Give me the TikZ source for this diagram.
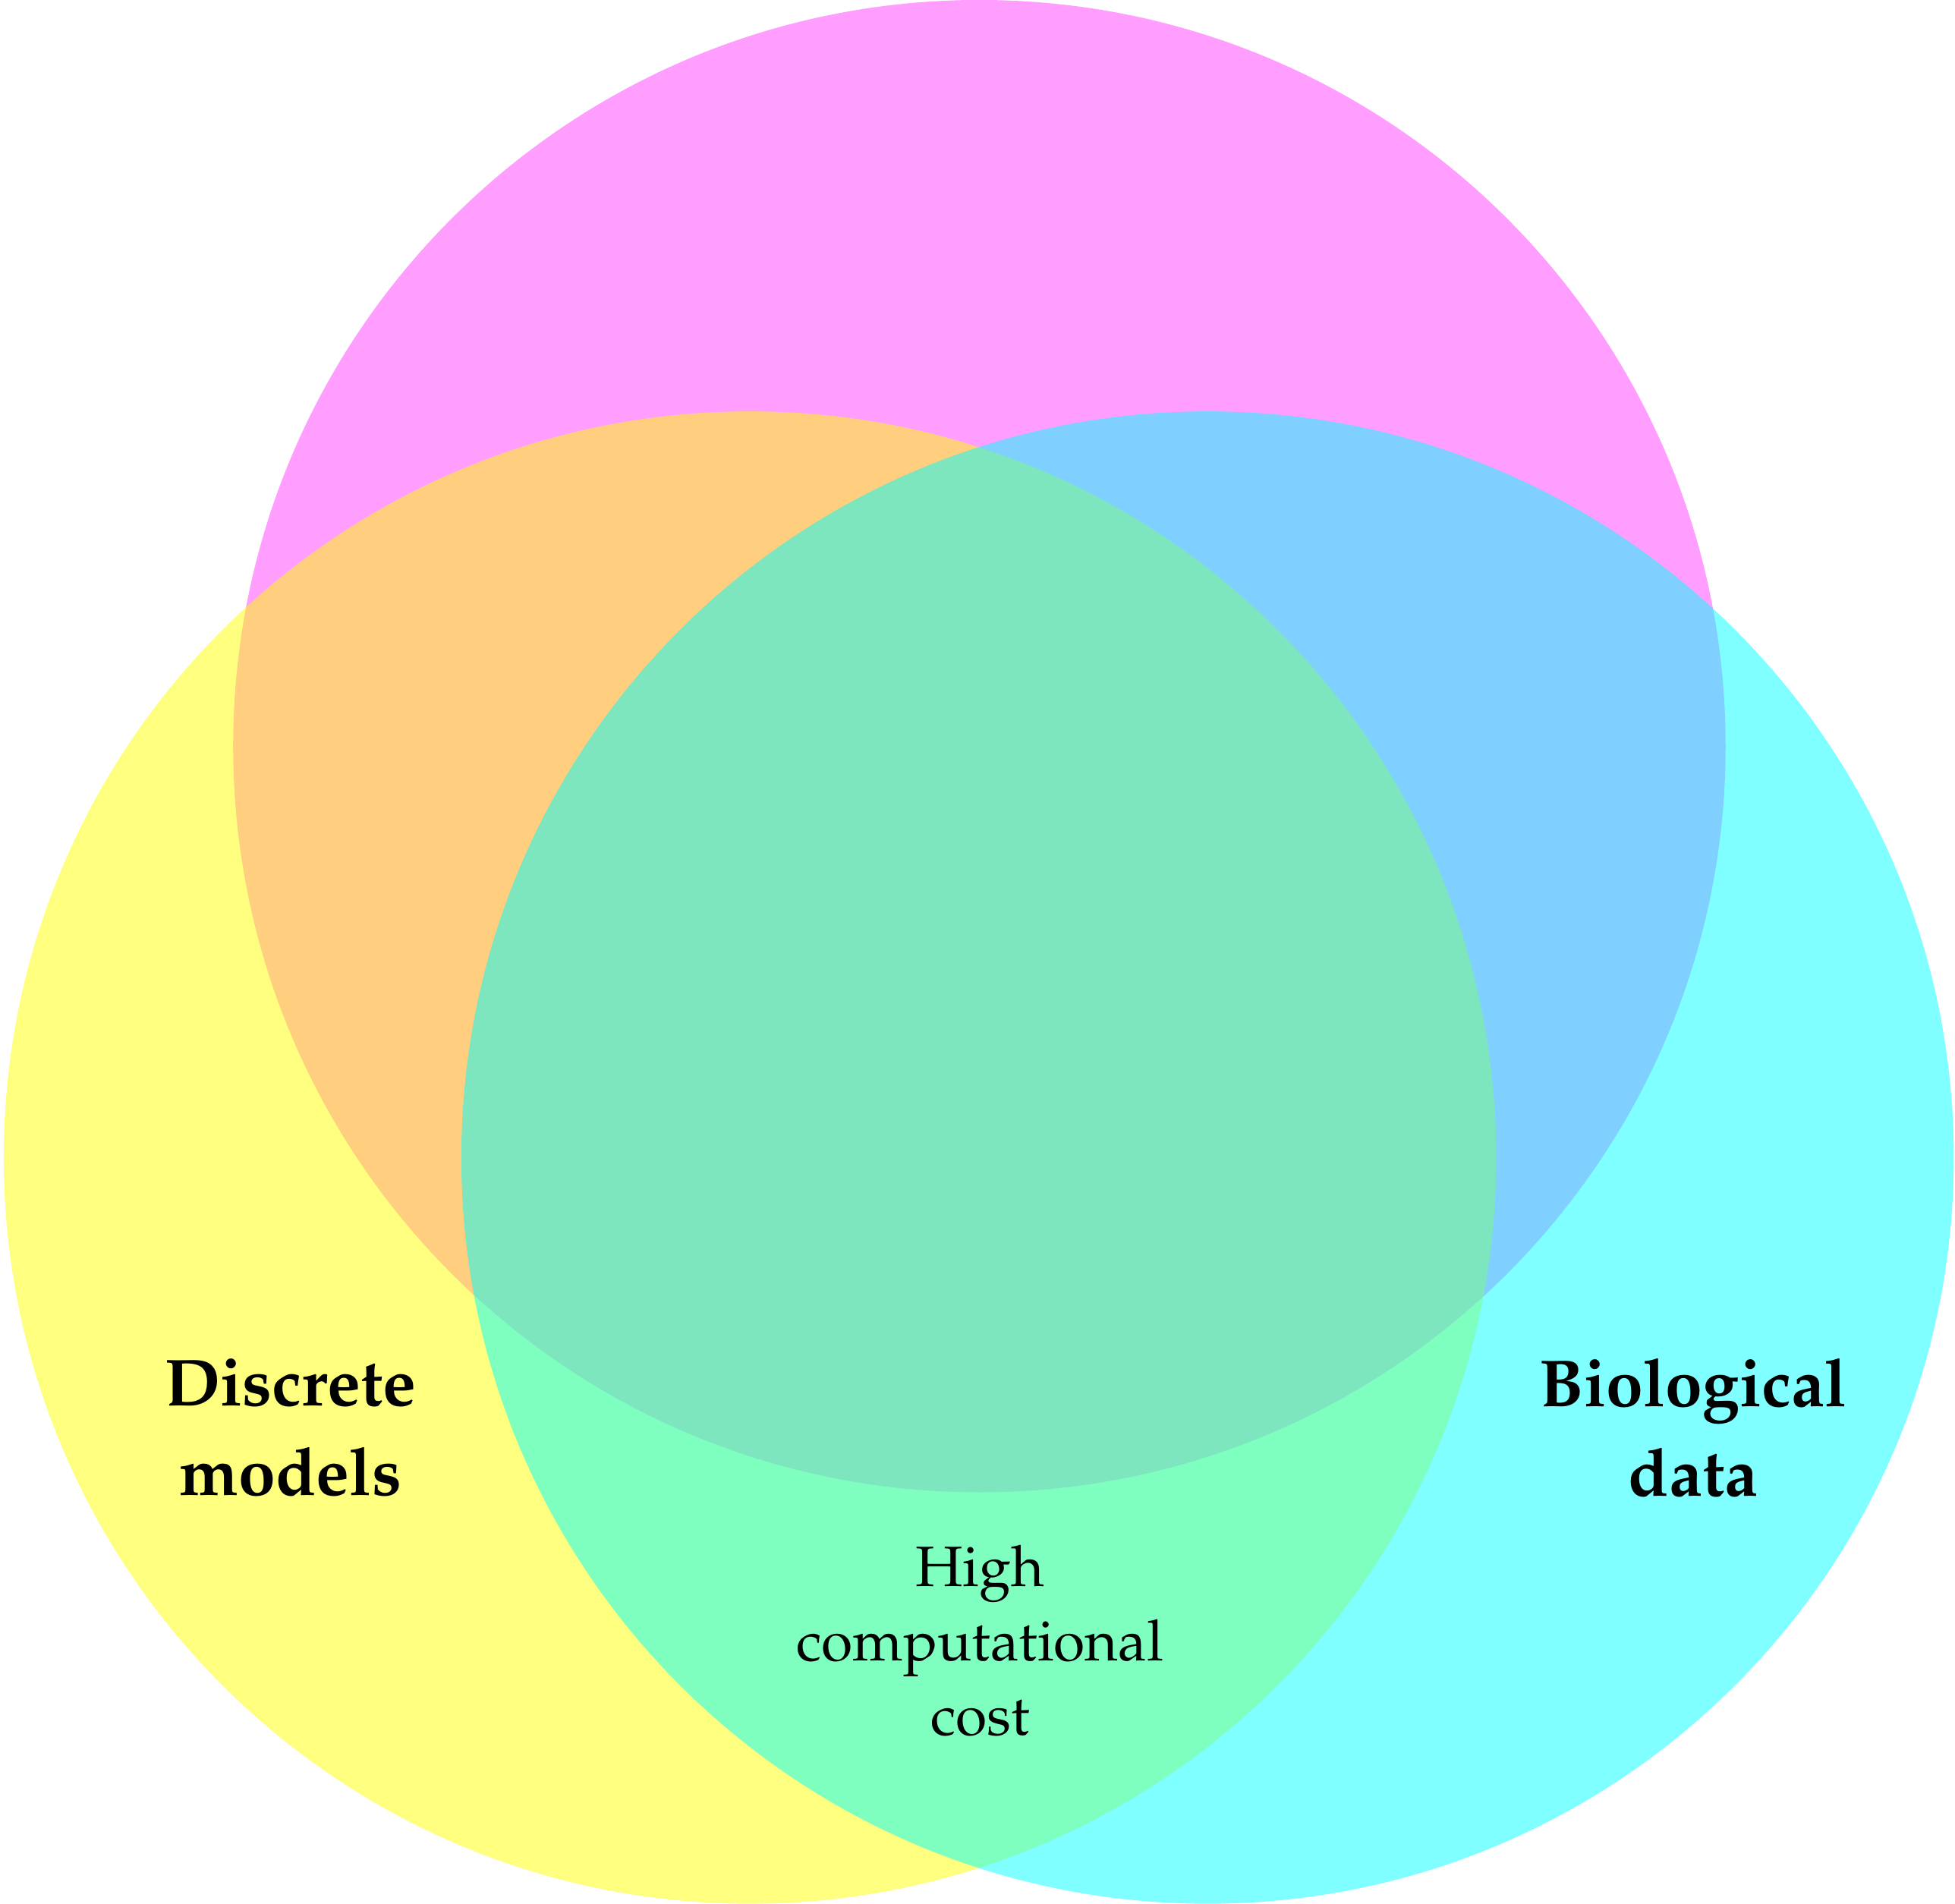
\documentclass[tikz,border=0pt]{standalone}
\usepackage[T1]{fontenc}
\usepackage{mathpazo}
\usepackage{tikz}

\definecolor{vmagenta}{RGB}{255,0,255}
\definecolor{vyellow}{RGB}{255,255,0}
\definecolor{vcyan}{RGB}{0,255,255}

\begin{document}
\begin{tikzpicture}
      \useasboundingbox (0, 0) rectangle (15.68, 15.27);

      \path (7.855, 9.285) coordinate (top);
      \path (6.015, 5.985) coordinate (left);
      \path (9.685, 5.985) coordinate (right);

      \fill[vmagenta, fill opacity=0.38] (top) circle (5.985cm);
      \fill[vyellow, fill opacity=0.5] (left) circle (5.985cm);
      \fill[vcyan, fill opacity=0.5] (right) circle (5.985cm);

      \node[align=center, font=\fontsize{15.2}{20.4}\selectfont\bfseries] (discrete) at (2.33, 3.82) {Discrete\\models};
      \node[align=center, font=\fontsize{15.2}{20.4}\selectfont\bfseries] (biodata) at (13.58, 3.82) {Biological\\data};
      \node[align=center, font=\fontsize{13}{17}\selectfont] (cost) at (7.86, 2.11) {High\\computational\\cost};
    \end{tikzpicture}
\end{document}
